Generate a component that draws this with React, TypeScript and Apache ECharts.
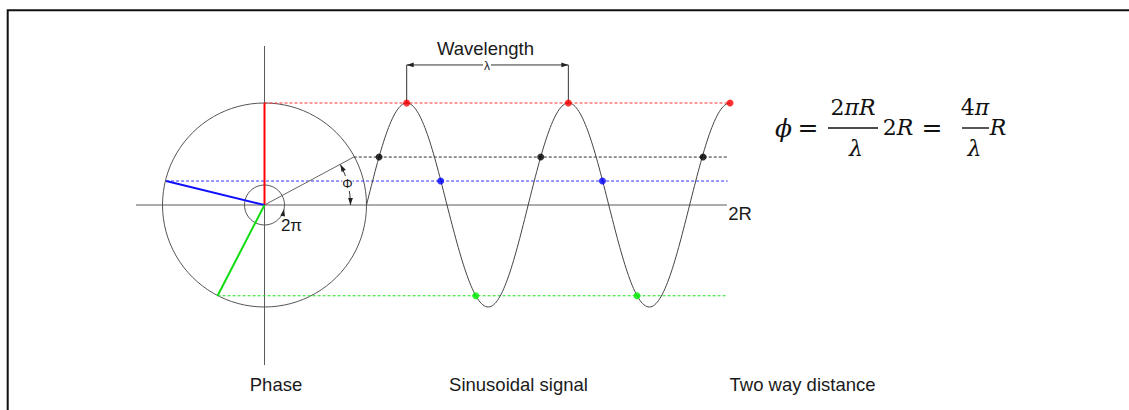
import React, { useEffect, useRef } from "react";
import * as echarts from "echarts";

// Diagram units: the phase circle has radius 1 and its centre is at (0, 0).
const circles = [
  [0, 0, 1],
  [0, 0, 0.196],
];
const horizontalAxis = [
  [-1.26, 0],
  [4.534, 0],
];
const verticalAxis = [
  [0, 1.559],
  [0, -1.569],
];
const redRadius = [
  [0, 0],
  [0, 1],
];
const blueRadius = [
  [0, 0],
  [-0.965, 0.235],
];
const greenRadius = [
  [0, 0],
  [-0.46, -0.89],
];
const phaseRadius = [
  [0, 0],
  [0.875, 0.47],
];
const redLevel = [
  [0, 1],
  [4.564, 1],
];
const blackLevel = [
  [0.875, 0.47],
  [4.54, 0.47],
];
const blueLevel = [
  [-0.965, 0.235],
  [4.54, 0.235],
];
const greenLevel = [
  [-0.46, -0.89],
  [4.54, -0.89],
];
// zero crossings and extremes of the sinusoidal signal
const wavePoints = [
  [1, 0],
  [1.394, 1],
  [1.789, 0],
  [2.194, -1],
  [2.585, 0],
  [2.979, 1],
  [3.375, 0],
  [3.773, -1],
  [4.168, 0],
  [4.564, 1],
];
const redDots = [
  [1.394, 1],
  [2.979, 1],
  [4.564, 1],
];
const blackDots = [
  [1.123, 0.47],
  [2.708, 0.47],
  [4.3, 0.47],
];
const blueDots = [
  [1.727, 0.235],
  [3.313, 0.235],
];
const greenDots = [
  [2.071, -0.89],
  [3.652, -0.89],
];
const phiArc = [[0, 0, 0.843, 0, 28]];
const wavelengthBracket = [
  [1.394, 1],
  [1.394, 1.373],
  [2.979, 1.373],
  [2.979, 1],
];
// tip x, tip y, pointing direction (degrees)
const arrowHeads = [
  [0.744, 0.396, 118],
  [0.843, 0, 270],
  [0.192, -0.041, 78],
  [1.394, 1.373, 180],
  [2.979, 1.373, 0],
];
const bottomLabels = ["Phase", "Sinusoidal signal", "Two way distance"];

export default function App() {
  const ref = useRef<HTMLDivElement>(null);

  useEffect(() => {
    const el = ref.current!;
    const chart = echarts.init(el, null, { renderer: "svg" });

    const W = 1129;
    const H = 410;
    const cx = 264.5;
    const cy = 205;
    const S = 102;
    const xMin = -cx / S;
    const xMax = (W - cx) / S;
    const yMax = cy / S;
    const yMin = -(H - cy) / S;

    const sans = "'Liberation Sans', Arial, sans-serif";
    const serif = "'DejaVu Serif', 'Liberation Serif', serif";

    const seg = (name: string, data: number[][], color: string, width: number, type: any = "solid", z = 2) => ({
      type: "line",
      name,
      data,
      symbol: "none",
      silent: true,
      z,
      lineStyle: { color, width, type },
    });

    const dots = (name: string, data: number[][], color: string) => ({
      type: "scatter",
      name,
      data,
      symbol: "circle",
      symbolSize: 7,
      silent: true,
      z: 10,
      itemStyle: { color },
    });

    const waveSegments = wavePoints
      .slice(1)
      .map((p, i) => [wavePoints[i][0], wavePoints[i][1], p[0], p[1]]);

    const txt = (text: string, x: number, y: number, size: number, extra: any = {}) => ({
      type: "text",
      x,
      y,
      z: 100,
      silent: true,
      style: {
        text,
        fontSize: size,
        fontFamily: sans,
        fill: "#1a1a1a",
        align: "center",
        verticalAlign: "middle",
        textAlign: "center",
        textVerticalAlign: "middle",
        ...extra,
      },
    });

    const FS = 22;
    const rich = {
      u: { fontFamily: serif, fontStyle: "normal", fontSize: FS, fill: "#111" },
      i: { fontFamily: serif, fontStyle: "italic", fontSize: FS, fill: "#111" },
      e: { fontFamily: serif, fontStyle: "normal", fontSize: 25, fill: "#111" },
      p: { fontFamily: serif, fontStyle: "italic", fontSize: 25, fill: "#111" },
    };
    const ftxt = (text: string, x: number, y: number) => ({
      type: "text",
      x,
      y,
      z: 100,
      silent: true,
      style: {
        text,
        rich,
        fontFamily: serif,
        fontSize: FS,
        fill: "#111",
        align: "center",
        verticalAlign: "middle",
        textAlign: "center",
        textVerticalAlign: "middle",
      },
    });
    const bar = (x1: number, x2: number, y: number) => ({
      type: "line",
      z: 100,
      silent: true,
      shape: { x1, y1: y, x2, y2: y },
      style: { stroke: "#111", lineWidth: 1.4 },
    });

    const option: any = {
      animation: false,
      backgroundColor: "#ffffff",
      grid: { left: 0, right: 0, top: 0, bottom: 0, containLabel: false },
      xAxis: { type: "value", min: xMin, max: xMax, show: false },
      yAxis: { type: "value", min: yMin, max: yMax, show: false },
      series: [
        seg("horizontal axis", horizontalAxis, "#5a5a5a", 1),
        seg("vertical axis", verticalAxis, "#5a5a5a", 1),
        {
          type: "custom",
          name: "circles",
          data: circles,
          silent: true,
          z: 3,
          renderItem: (params: any, api: any) => {
            const c = api.coord([api.value(0), api.value(1)]);
            const r = api.size([api.value(2), 0])[0];
            return {
              type: "circle",
              shape: { cx: c[0], cy: c[1], r },
              style: { fill: "none", stroke: "#555", lineWidth: 1 },
            };
          },
        },
        seg("red level", redLevel, "#ff3333", 1, [3, 2], 3),
        seg("black level", blackLevel, "#2a2a2a", 1, [3, 2], 3),
        seg("blue level", blueLevel, "#3030ff", 1, [3, 2], 3),
        seg("green level", greenLevel, "#22dd22", 1, [3, 2], 3),
        seg("phase radius", phaseRadius, "#666666", 1, "solid", 4),
        seg("red radius", redRadius, "#ff0000", 2, "solid", 6),
        seg("blue radius", blueRadius, "#1010ff", 2, "solid", 6),
        seg("green radius", greenRadius, "#10dd10", 2, "solid", 6),
        seg("wavelength", wavelengthBracket, "#333333", 1, "solid", 4),
        {
          type: "custom",
          name: "signal",
          data: waveSegments,
          silent: true,
          z: 5,
          renderItem: (params: any, api: any) => {
            const x0 = api.value(0);
            const y0 = api.value(1);
            const x1 = api.value(2);
            const y1 = api.value(3);
            const dx = x1 - x0;
            const dy = y1 - y0;
            let c1: number[];
            let c2: number[];
            if (Math.abs(y0) < Math.abs(y1)) {
              c1 = [x0 + 0.3261 * dx, y0 + 0.5123 * dy];
              c2 = [x0 + 0.6381 * dx, y1];
            } else {
              c1 = [x0 + 0.3619 * dx, y0];
              c2 = [x0 + 0.6739 * dx, y0 + 0.4877 * dy];
            }
            const a = api.coord([x0, y0]);
            const b = api.coord([x1, y1]);
            const p = api.coord(c1);
            const q = api.coord(c2);
            return {
              type: "bezierCurve",
              shape: { x1: a[0], y1: a[1], x2: b[0], y2: b[1], cpx1: p[0], cpy1: p[1], cpx2: q[0], cpy2: q[1] },
              style: { stroke: "#444", fill: "none", lineWidth: 1 },
            };
          },
        },
        {
          type: "custom",
          name: "phi arc",
          data: phiArc,
          silent: true,
          z: 5,
          renderItem: (params: any, api: any) => {
            const c = api.coord([api.value(0), api.value(1)]);
            const r = api.size([api.value(2), 0])[0];
            const a0 = (api.value(3) * Math.PI) / 180;
            const a1 = (api.value(4) * Math.PI) / 180;
            return {
              type: "arc",
              shape: { cx: c[0], cy: c[1], r, startAngle: -a1, endAngle: -a0, clockwise: true },
              style: { stroke: "#333", fill: "none", lineWidth: 1 },
            };
          },
        },
        {
          type: "custom",
          name: "arrows",
          data: arrowHeads,
          silent: true,
          z: 7,
          renderItem: (params: any, api: any) => {
            const p = api.coord([api.value(0), api.value(1)]);
            const ang = (api.value(2) * Math.PI) / 180;
            const dx = Math.cos(ang);
            const dy = -Math.sin(ang);
            const L = 7;
            const w = 2.4;
            const bx = p[0] - L * dx;
            const by = p[1] - L * dy;
            return {
              type: "polygon",
              shape: {
                points: [
                  [p[0], p[1]],
                  [bx - w * dy, by + w * dx],
                  [bx + w * dy, by - w * dx],
                ],
              },
              style: { fill: "#222", stroke: "none" },
            };
          },
        },
        dots("red points", redDots, "#ff0000"),
        dots("black points", blackDots, "#000000"),
        dots("blue points", blueDots, "#0000ff"),
        dots("green points", greenDots, "#00ee00"),
      ],
      graphic: {
        elements: [
          {
            type: "polyline",
            z: 100,
            silent: true,
            shape: {
              points: [
                [7.7, 410],
                [7.7, 10.3],
                [1129, 10.3],
              ],
            },
            style: { stroke: "#111", lineWidth: 2, fill: "none" },
          },
          txt(bottomLabels[0], 276, 384, 18.5),
          txt(bottomLabels[1], 518.5, 384, 18.5),
          txt(bottomLabels[2], 802.5, 384, 18.5),
          txt("Wavelength", 485.5, 48, 18.5),
          txt("λ", 487, 65.5, 12, { backgroundColor: "#fff", padding: [0, 1] }),
          txt("2R", 740, 213, 18.5),
          txt("2π", 291.5, 225, 17),
          txt("Φ", 347.5, 183.5, 13, { backgroundColor: "#fff", padding: [1, 0] }),
          ftxt("{p|ϕ}", 783.5, 128),
          ftxt("{e|=}", 808, 127),
          ftxt("{u|2}{i|πR}", 853, 107.5),
          bar(828, 878, 128),
          ftxt("{i|λ}", 856, 148),
          ftxt("{u|2}{i|R}", 898, 127.5),
          ftxt("{e|=}", 932, 127),
          ftxt("{u|4}{i|π}", 975, 107.5),
          bar(962, 989, 128),
          ftxt("{i|λ}", 974.5, 148),
          ftxt("{i|R}", 998, 127.5),
        ],
      },
    };

    chart.setOption(option);
    return () => chart.dispose();
  }, []);

  return (
    <div
      ref={ref}
      style={{ position: "absolute", left: 0, top: 0, width: 1129, height: 410 }}
    />
  );
}
